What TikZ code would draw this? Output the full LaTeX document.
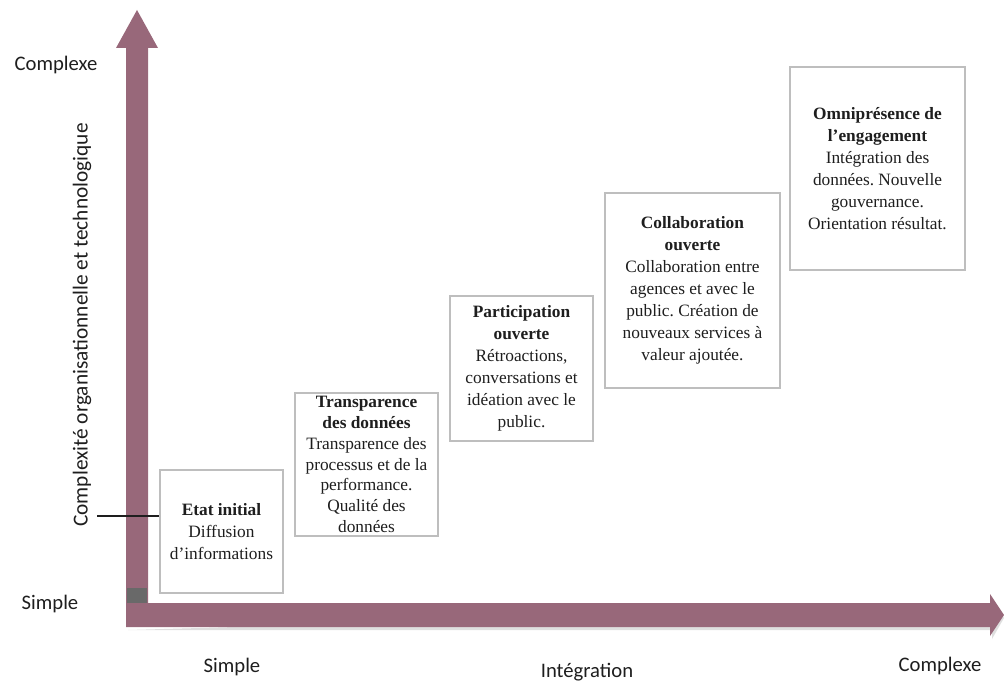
\documentclass[tikz,border=0pt]{standalone}
\usepackage{fontspec}
\setmainfont{Liberation Serif}
\newfontfamily\calib{Carlito}
\frenchspacing
\definecolor{mauve}{RGB}{152,104,122}
\definecolor{cornergray}{RGB}{105,105,105}
\definecolor{boxline}{RGB}{190,190,190}
\definecolor{txt}{RGB}{30,30,30}
\begin{document}
\begin{tikzpicture}[x=0.75pt,y=-0.75pt,
  stagebox/.style={draw=boxline, line width=1.1pt, fill=white, inner sep=0pt,
    align=center, text=txt, font=\fontsize{13}{16.5}\selectfont},
  axislabel/.style={font=\calib\fontsize{15.5}{18}\selectfont, text=txt, inner sep=0pt}]
\useasboundingbox (0,0) rectangle (1004,681);
% shadow
\fill[gray!25] (128,630) -- (992,630) -- (992,639) -- (1004,618) -- (992,597) -- (992,606) -- cycle;
% axes
\fill[mauve] (126,627) -- (126,48) -- (116,48) -- (137,10) -- (158,48) -- (148,48) -- (148,603)
  -- (990,603) -- (990,594) -- (1004,615) -- (990,636) -- (990,627) -- cycle;
\fill[cornergray] (127,588) rectangle (147,603);
% boxes
\node[stagebox, minimum width=92.25pt, minimum height=92.25pt] (e1) at (221.5,531.5)
  {\textbf{Etat initial}\\Diffusion\\d’informations};
\node[stagebox, minimum width=107.25pt, minimum height=107.25pt,
  font=\fontsize{13}{15.6}\selectfont] (e2) at (366.5,464.5)
  {\textbf{Transparence}\\\textbf{des données}\\Transparence des\\processus et de la\\performance.\\Qualité des\\données};
\node[stagebox, minimum width=107.25pt, minimum height=108.75pt] (e3) at (521.5,368.5)
  {\textbf{Participation}\\\textbf{ouverte}\\Rétroactions,\\conversations et\\idéation avec le\\public.};
\node[stagebox, minimum width=131.25pt, minimum height=146.25pt] (e4) at (692.5,290.5)
  {\textbf{Collaboration}\\\textbf{ouverte}\\Collaboration entre\\agences et avec le\\public. Création de\\nouveaux services à\\valeur ajoutée.};
\node[stagebox, minimum width=131.25pt, minimum height=152.25pt] (e5) at (877.5,168.5)
  {\textbf{Omniprésence de}\\\textbf{l’engagement}\\Intégration des\\données. Nouvelle\\gouvernance.\\Orientation résultat.};
% tick line
\coordinate (tick) at (97,516);
\draw[txt, line width=0.8pt] (tick) -- (tick -| e1.west);
% labels
\node[axislabel] (ycomplex) at (56,65) {Complexe};
\node[axislabel] (ysimple) at (50,604) {Simple};
\node[axislabel, rotate=90, font=\calib\fontsize{16}{18}\selectfont] (ylab) at (82,325) {Complexité organisationnelle et technologique};
\node[axislabel] (xsimple) at (232,667) {Simple};
\node[axislabel] (xint) at (587,672) {Intégration};
\node[axislabel] (xcomplex) at (940,666) {Complexe};
\end{tikzpicture}
\end{document}
